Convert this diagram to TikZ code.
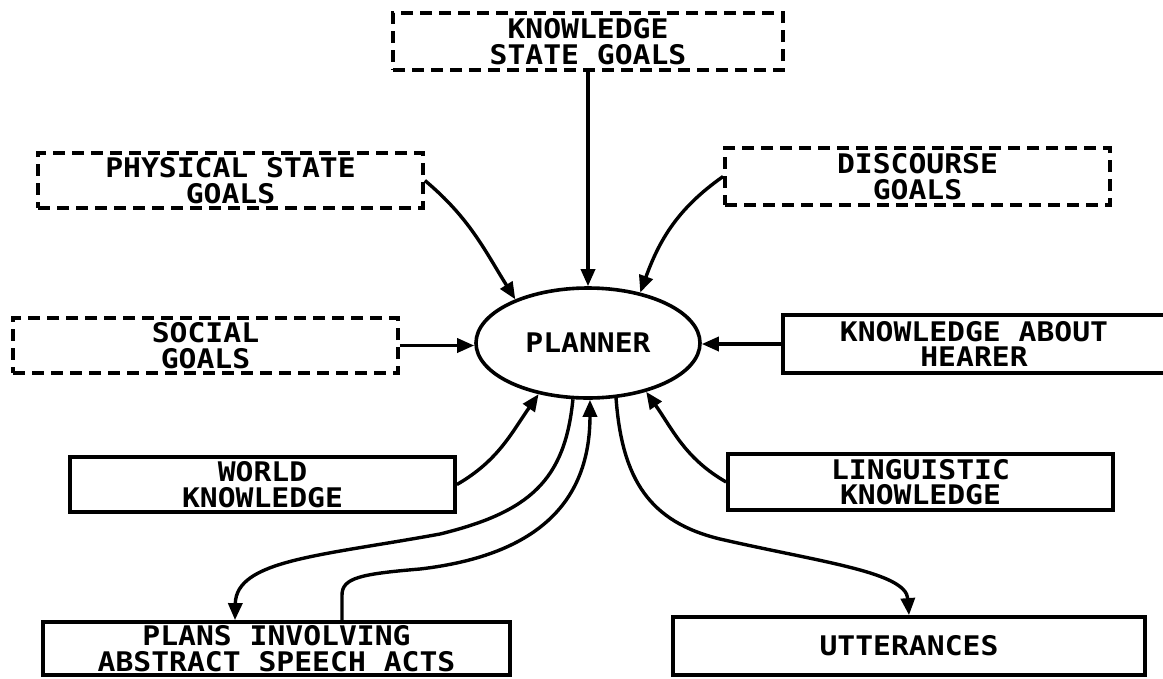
\documentclass[tikz,border=0pt]{standalone}
\usepackage{fontspec}
\newfontfamily\lblfont[FakeStretch=1.1]{DejaVu Sans Mono}
\usetikzlibrary{arrows.meta,shapes.geometric}
\begin{document}
\begin{tikzpicture}[x=1pt,y=-1pt,
  lbl/.style={font={\lblfont\bfseries\fontsize{27}{25.5}\selectfont}, align=center, inner sep=0pt},
  goalbox/.style={lbl, draw, rectangle, line width=3.8pt, dash pattern=on 12pt off 7pt},
  infobox/.style={lbl, draw, rectangle, line width=3.8pt},
  arr/.style={-{Triangle[length=17pt,width=14pt]}, line width=3.4pt}]
\useasboundingbox (0,0) rectangle (1163,678);

% goal boxes (dashed)
\node[goalbox, minimum width=390pt, minimum height=57pt] (ksg) at (588,41.5) {KNOWLEDGE\\STATE GOALS};
\node[goalbox, minimum width=385pt, minimum height=55pt] (psg) at (230.5,180.5) {PHYSICAL STATE\\GOALS};
\node[goalbox, minimum width=385pt, minimum height=57pt] (dg) at (917.5,176.5) {DISCOURSE\\GOALS};
\node[goalbox, minimum width=385pt, minimum height=55pt] (sg) at (205.5,345.5) {SOCIAL\\GOALS};

% knowledge sources (solid)
\node[infobox, minimum width=382pt, minimum height=58pt] (kah) at (974,344) {KNOWLEDGE ABOUT\\HEARER};
\node[infobox, minimum width=385pt, minimum height=55pt] (wk) at (262.5,484.5) {WORLD\\KNOWLEDGE};
\node[infobox, minimum width=385pt, minimum height=56pt] (lk) at (920.5,482) {LINGUISTIC\\KNOWLEDGE};

% outputs
\node[infobox, minimum width=467pt, minimum height=53pt] (plans) at (276.5,648.5) {PLANS INVOLVING\\ABSTRACT SPEECH ACTS};
\node[infobox, minimum width=472pt, minimum height=58pt] (utt) at (909,646) {UTTERANCES};

% central planner
\node[lbl, draw, ellipse, line width=3.6pt, minimum width=224pt, minimum height=110pt] (planner) at (588,343) {PLANNER};

% inputs to the planner
\draw[arr] (ksg.south) -- (planner.north);
\draw[arr] (psg.east) to[out=-40, in=122] (planner.149);
\draw[arr] (dg.west) to[out=-145, in=70] (planner.44);
\draw[arr] (sg.east) -- (sg.east -| planner.west);
\draw[arr] (kah.west) -- (kah.west -| planner.east);
\draw[arr] (wk.east) to[out=30, in=-125] (planner.226);
\draw[arr] (lk.west) to[out=150, in=-55] (planner.-40);

% planner to plans and back
\draw[arr] (planner.-105) .. controls (565,480) and (530,512) .. (440,534)
  .. controls (320,556) and (236,560) .. ([xshift=-41.5pt]plans.north);
\draw[arr] ([xshift=65.5pt]plans.north) -- ++(0,-25)
  .. controls (342,578) and (360,574) .. (420,569)
  .. controls (540,555) and (590,500) .. (planner.-88);

% planner to utterances
\draw[arr] (planner.-63) .. controls (622,480) and (650,522) .. (720,539)
  .. controls (820,562) and (906,572) .. (utt.north);
\end{tikzpicture}
\end{document}
